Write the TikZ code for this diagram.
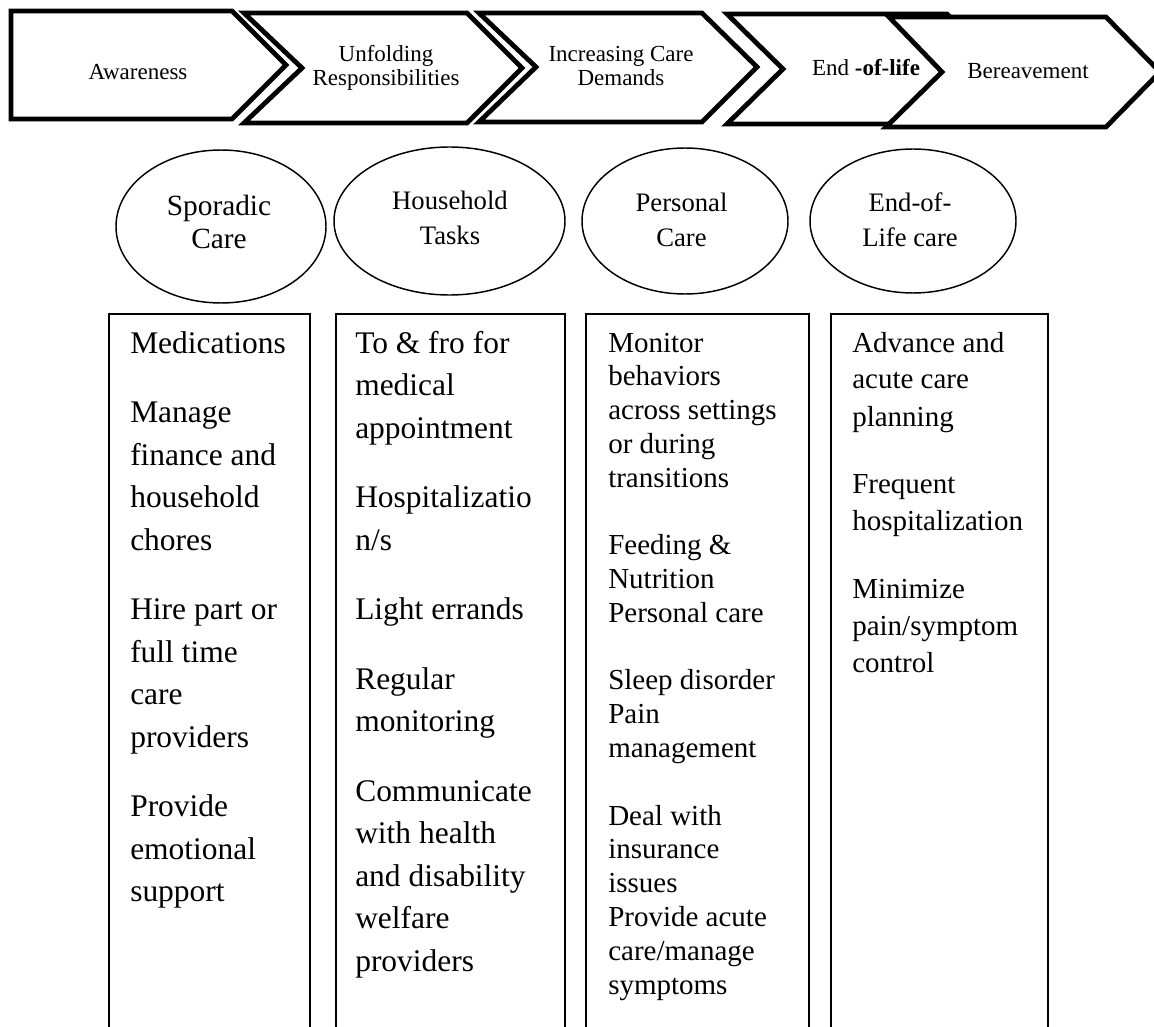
\documentclass[tikz,border=0pt]{standalone}
\usepackage{fontspec}
\setmainfont{Liberation Serif}
\usetikzlibrary{shapes.geometric}
\begin{document}
\begin{tikzpicture}[x=0.75pt,y=-0.75pt,
  chevron/.style={draw=black,fill=white,line width=3.6pt,line join=miter},
  stagetext/.style={inner sep=0pt,align=center,font=\fontsize{17.25pt}{18pt}\selectfont},
  phase/.style={draw,ellipse,line width=1.1pt,inner sep=0pt},
  phasetext/.style={inner sep=0pt,align=center,font=\fontsize{20pt}{26.25pt}\selectfont},
  taskframe/.style={draw,line width=1.4pt},
  tasks/.style={inner sep=0pt,anchor=base west,align=flush left,text width=170pt},
  bigtask/.style={tasks,font=\fontsize{23.6pt}{31.9pt}\selectfont},
  smalltask/.style={tasks,font=\fontsize{21.75pt}{25.35pt}\selectfont},
]
\fill[white] (0,0) rectangle (1154,1027);
\useasboundingbox (0,0) rectangle (1154,1027);
\clip (0,0) rectangle (1154,1027);

% stage chevrons, left to right
\draw[chevron] (11,11) -- (232,11) -- (286,65) -- (232,119) -- (11,119) -- cycle;
\draw[chevron] (244,13) -- (467,13) -- (522,68) -- (467,123) -- (244,123) -- (302,68) -- cycle;
\draw[chevron] (479,13) -- (702,13) -- (757,67) -- (702,122) -- (479,122) -- (536,67) -- cycle;
\draw[chevron] (727,14) -- (947,14) -- (1001,69) -- (947,124) -- (727,124) -- (783,69) -- cycle;
\draw[chevron] (889,17) -- (1106,17) -- (1160,72) -- (1106,127) -- (886,127) -- (942,72) -- cycle;

\node[stagetext,anchor=base] (s1) at (138,80) {Awareness};
\node[stagetext] (s2) at (386,68) {Unfolding\\Responsibilities};
\node[stagetext] (s3) at (621,66) {Increasing Care\\Demands};
\node[stagetext,anchor=base] (s4) at (866,76) {End \textbf{-of-life}};
\node[stagetext,anchor=base] (s5) at (1028,79) {Bereavement};

% care phases
\node[phase,minimum width=157.5pt,minimum height=114.75pt] (p1) at (221,226.5) {};
\node[phase,minimum width=173.25pt,minimum height=111pt] (p2) at (449.5,221) {};
\node[phase,minimum width=154.5pt,minimum height=109.5pt] (p3) at (685,221) {};
\node[phase,minimum width=154.5pt,minimum height=108pt] (p4) at (913,221) {};

\node[phasetext,font=\fontsize{22pt}{24.75pt}\selectfont] (p1t) at (219,222) {Sporadic\\Care};
\node[phasetext] (p2t) at (450,217.5) {Household\\Tasks};
\node[phasetext] (p3t) at (681.5,219.5) {Personal\\Care};
\node[phasetext] (p4t) at (910,219.5) {End-of-\\Life care};

% task columns, open at the bottom
\draw[taskframe] (109,1040) |- (310,314) -- (310,1040);
\draw[taskframe] (336,1040) |- (565,314) -- (565,1040);
\draw[taskframe] (586,1040) |- (809,314) -- (809,1040);
\draw[taskframe] (831,1040) |- (1048,314) -- (1048,1040);

\node[bigtask] (t1) at (130,353) {Medications\\[20.25pt]
Manage\\finance and\\household\\chores\\[20.25pt]
Hire part or\\full time\\care\\providers\\[20.25pt]
Provide\\emotional\\support};

\node[bigtask] (t2) at (355,353) {To \& fro for\\medical\\appointment\\[20.25pt]
Hospitalizatio\\n/s\\[20.25pt]
Light errands\\[20.25pt]
Regular\\monitoring\\[20.25pt]
Communicate\\with health\\and disability\\welfare\\providers};

\node[smalltask] (t3) at (608,352) {Monitor\\behaviors\\across settings\\or during\\transitions\\[25.35pt]
Feeding \&\\Nutrition\\Personal care\\[25.35pt]
Sleep disorder\\Pain\\management\\[25.35pt]
Deal with\\insurance\\issues\\Provide acute\\care/manage\\symptoms};

\node[smalltask,font=\fontsize{21.75pt}{27.75pt}\selectfont] (t4) at (852,352) {Advance and\\acute care\\planning\\[23.25pt]
Frequent\\hospitalization\\[23.25pt]
Minimize\\pain/symptom\\control};
\end{tikzpicture}
\end{document}
